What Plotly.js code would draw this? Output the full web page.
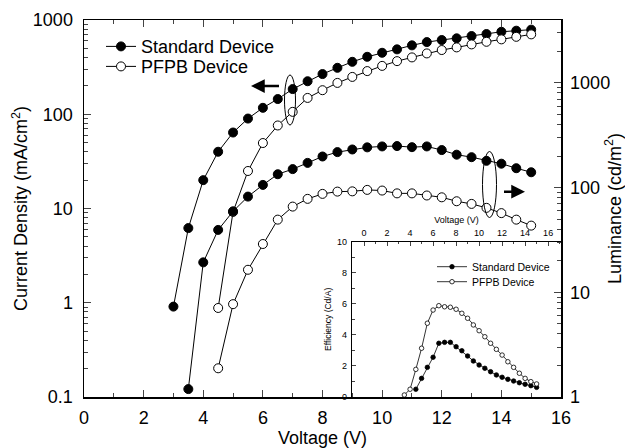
<!DOCTYPE html>
<html><head><meta charset="utf-8">
<script src="https://cdn.plot.ly/plotly-3.0.1.min.js"></script>
<style>html,body{margin:0;padding:0;background:#fff}#chart{width:625px;height:448px}</style>
</head><body><div id="chart"></div>
<script>
// ---- data ----
const V_J_STD = [3,3.5,4,4.5,5,5.5,6,6.5,7,7.5,8,8.5,9,9.5,10,10.5,11,11.5,12,12.5,13,13.5,14,14.5,15];
const J_STD   = [0.91,6.2,20,40,64,90,117,145,185,224,267,311,360,407,449,488,538,583,613,639,676,710,750,770,790];
const V_J_PFPB = [4.5,5,5.5,6,6.5,7,7.5,8,8.5,9,9.5,10,10.5,11,11.5,12,12.5,13,13.5,14,14.5,15];
const J_PFPB   = [0.88,9.2,25,49.5,76,106,149,180,215,249,287,326,366,401,442,480,512,551,587,623,663,704];
const V_L_STD = [3.5,4,4.5,5,5.5,6,6.5,7,7.5,8,8.5,9,9.5,10,10.5,11,11.5,12,12.5,13,13.5,14,14.5,15];
const L_STD   = [1.19,19.3,39.4,59.3,82,106,134,150,172,198,218,231,242,247,249,243,247,228,206,195,180,169,153,140];
const V_L_PFPB = [4.5,5,5.5,6,6.5,7,7.5,8,8.5,9,9.5,10,10.5,11,11.5,12,12.5,13,13.5,14,14.5,15];
const L_PFPB   = [1.88,7.7,16.4,28.9,49.4,65.8,78,87,91.5,92,95,93.6,88,88,84,80.7,74,69.8,64,57,49.4,43.3];
const V_E_STD = [4.5,5,5.5,6,6.5,7,7.5,8,8.5,9,9.5,10,10.5,11,11.5,12,12.5,13,13.5,14,14.5,15];
const E_STD   = [0.50,1.20,1.91,2.56,3.46,3.52,3.52,3.24,2.98,2.64,2.32,2.06,1.85,1.63,1.42,1.27,1.14,1.03,0.92,0.82,0.73,0.62];
const V_E_PFPB = [3.5,4,4.5,5,5.5,6,6.5,7,7.5,8,8.5,9,9.5,10,10.5,11,11.5,12,12.5,13,13.5,14,14.5,15];
const E_PFPB   = [0.13,0.5,1.78,3.14,4.75,5.6,5.88,5.81,5.78,5.65,5.39,5.07,4.64,4.27,3.88,3.46,3.07,2.70,2.27,1.91,1.53,1.20,0.99,0.84];
const NAMES = ['Standard Device','PFPB Device'];
const J_TICKS = [0.1,1,10,100,1000];
const J_TICKTEXT = ['0.1','1','10','100','1000'];
const L_TICKS = [1,10,100,1000];
const L_TICKTEXT = ['1','10','100','1000'];

// ---- styling ----
const FONT = 'Liberation Sans, Arial, Helvetica, sans-serif';
function minorLog(lo, hi){ const out=[]; for(let d=lo; d<hi; d++){ for(let k=2;k<10;k++){ out.push(k*Math.pow(10,d)); } } return out; }
const filled = {color:'#000', size:9, line:{color:'#000', width:1}};
const open   = {color:'#fff', size:9, line:{color:'#000', width:1}};
const filledS = {color:'#000', size:4.5, line:{color:'#000', width:0.8}};
const openS   = {color:'#fff', size:4.5, line:{color:'#000', width:0.8}};
const ln = {color:'#000', width:1};
const lnS = {color:'#000', width:0.8};

const traces = [
  {x:V_J_STD, y:J_STD, mode:'lines+markers', name:NAMES[0], marker:filled, line:ln, xaxis:'x', yaxis:'y', legend:'legend'},
  {x:V_J_PFPB, y:J_PFPB, mode:'lines+markers', name:NAMES[1], marker:open, line:ln, xaxis:'x', yaxis:'y', legend:'legend2'},
  {x:V_L_STD, y:L_STD, mode:'lines+markers', name:NAMES[0], marker:filled, line:ln, xaxis:'x', yaxis:'y2', showlegend:false},
  {x:V_L_PFPB, y:L_PFPB, mode:'lines+markers', name:NAMES[1], marker:open, line:ln, xaxis:'x', yaxis:'y2', showlegend:false},
  {x:V_E_STD, y:E_STD, mode:'lines+markers', name:NAMES[0], marker:filledS, line:lnS, xaxis:'x2', yaxis:'y3', legend:'legend3'},
  {x:V_E_PFPB, y:E_PFPB, mode:'lines+markers', name:NAMES[1], marker:openS, line:lnS, xaxis:'x2', yaxis:'y3', legend:'legend4'}
];

const W = 477, H = 377, L0 = 84, T0 = 20;
const px = v => (v - L0) / W;
const py = v => (T0 + H - v) / H;

const legBase = {xanchor:'left', yanchor:'middle', bgcolor:'rgba(0,0,0,0)', borderwidth:0};

const layout = {
  width:625, height:448,
  margin:{l:84, r:64, t:20, b:51},
  paper_bgcolor:'#fff', plot_bgcolor:'rgba(0,0,0,0)',
  font:{family:FONT, color:'#000', size:18},
  xaxis:{domain:[0,1], anchor:'y', range:[0,16], tick0:0, dtick:2, ticks:'inside', ticklen:7, tickwidth:1,
    minor:{dtick:1, ticks:'inside', ticklen:4, tickwidth:1},
    showline:true, linewidth:1.5, linecolor:'#000', mirror:'ticks', showgrid:false, zeroline:false,
    tickfont:{size:18}, ticklabelstandoff:4,
    title:{text:'Voltage (V)', font:{size:18}, standoff:8}},
  yaxis:{type:'log', range:[-1,3], anchor:'x', side:'left', tickmode:'array', tickvals:J_TICKS, ticktext:J_TICKTEXT,
    ticks:'inside', ticklen:7, tickwidth:1,
    minor:{tickmode:'array', tickvals:minorLog(-1,3), ticks:'inside', ticklen:4, tickwidth:1},
    showline:true, linewidth:1.5, linecolor:'#000', showgrid:false, zeroline:false,
    tickfont:{size:18}, ticklabelstandoff:6,
    title:{text:'Current Density (mA/cm<sup>2</sup>)', font:{size:18}, standoff:0}},
  yaxis2:{type:'log', range:[0,3.6], anchor:'x', overlaying:'y', side:'right', tickmode:'array', tickvals:L_TICKS, ticktext:L_TICKTEXT,
    ticks:'inside', ticklen:7, tickwidth:1,
    minor:{tickmode:'array', tickvals:minorLog(0,4).filter(v=>v<3990), ticks:'inside', ticklen:4, tickwidth:1},
    showline:true, linewidth:1.5, linecolor:'#000', showgrid:false, zeroline:false,
    tickfont:{size:18}, ticklabelstandoff:4,
    title:{text:'Luminance (cd/m<sup>2</sup>)', font:{size:18}, standoff:14}},
  xaxis2:{domain:[px(352),1], anchor:'y3', side:'top', range:[-1.05,17.12], tick0:0, dtick:2, ticks:'inside', ticklen:4, tickwidth:1,
    minor:{dtick:1, ticks:'inside', ticklen:2.5, tickwidth:1},
    showline:true, linewidth:1.2, linecolor:'#000', showgrid:false, zeroline:false,
    tickfont:{size:9}, ticklabelstandoff:1,
    title:{text:'Voltage (V)', font:{size:9}, standoff:2}},
  yaxis3:{domain:[0,py(241.7)], anchor:'x2', range:[0,10], dtick:2, tick0:0, ticks:'inside', ticklen:4, tickwidth:1,
    minor:{dtick:1, ticks:'inside', ticklen:2.5, tickwidth:1},
    showline:true, linewidth:1.2, linecolor:'#000', showgrid:false, zeroline:false,
    tickfont:{size:9}, ticklabelstandoff:2,
    title:{text:'Efficiency (Cd/A)', font:{size:8.5}, standoff:4}},
  legend: Object.assign({}, legBase, {x:px(101), y:py(46.7), font:{size:18}}),
  legend2: Object.assign({}, legBase, {x:px(101), y:py(66.7), font:{size:18}}),
  legend3: Object.assign({}, legBase, {x:px(432), y:py(266.7), font:{size:10.5}}),
  legend4: Object.assign({}, legBase, {x:px(432), y:py(281.7), font:{size:10.5}}),
  shapes:[
    {type:'circle', xref:'paper', yref:'paper', x0:px(284.5), x1:px(295.5), y0:py(125), y1:py(75), line:{color:'#000', width:1}},
    {type:'circle', xref:'paper', yref:'paper', x0:px(482.5), x1:px(496.5), y0:py(217.5), y1:py(151.5), line:{color:'#000', width:1}}
  ],
  annotations:[
    {xref:'paper', yref:'paper', x:px(251), y:py(86), ax:32, ay:0, text:' ', showarrow:true, arrowhead:2, arrowsize:1.1, arrowwidth:2.5, arrowcolor:'#000', standoff:0},
    {xref:'paper', yref:'paper', x:px(525), y:py(191.7), ax:-25, ay:0, text:' ', showarrow:true, arrowhead:2, arrowsize:1.1, arrowwidth:2.5, arrowcolor:'#000', standoff:0}
  ]
};

Plotly.newPlot('chart', traces, layout, {displayModeBar:false, staticPlot:true});
</script>
</body></html>
